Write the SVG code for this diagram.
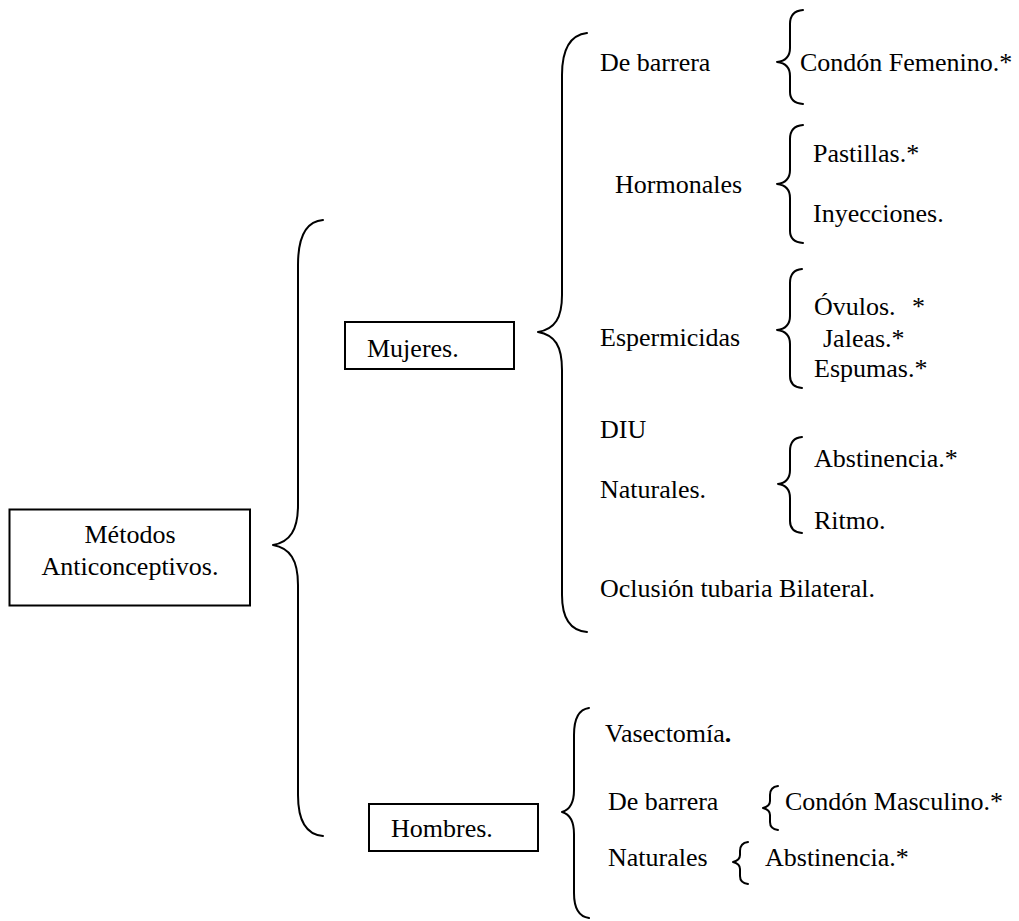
<svg xmlns="http://www.w3.org/2000/svg" width="1019" height="921" viewBox="0 0 1019 921">
<style>
  text { font-family: "Liberation Serif", "Times New Roman", serif; font-size: 26px; fill: #000; }
  .box { fill: #fff; stroke: #000; stroke-width: 2; }
  .brace { fill: none; stroke: #000; stroke-width: 2; stroke-linejoin: round; stroke-linecap: round; }
  .mid { text-anchor: middle; }
</style>
<rect width="1019" height="921" fill="#fff"/>
<g id="connectors">
  <path class="brace" d="M323,220 Q298,222 298,265 L298,505 C298,530 290,542 273,545 C290,548 298,560 298,585 L298,795 Q298,834 323,836"/>
  <path class="brace" d="M587,33 Q562,36 562,75 L562,295 C562,318 555,329 538,332 C555,335 562,346 562,370 L562,595 Q562,630 587,632"/>
  <path class="brace" d="M803,10 Q790,11 790,24 L790,48 C790,56 786,61 777,62 C786,63 790,68 790,76 L790,92 Q790,103 803,104"/>
  <path class="brace" d="M803,125 Q790,126 790,139 L790,170 C790,178 786,183 777,184 C786,185 790,190 790,198 L790,231 Q790,242 803,243"/>
  <path class="brace" d="M802,269 Q790,270 790,283 L790,316 C790,324 786,329 777,330 C786,331 790,336 790,344 L790,376 Q790,387 802,388"/>
  <path class="brace" d="M802,437 Q790,438 790,451 L790,470 C790,478 786,483 778,484 C786,485 790,490 790,498 L790,521 Q790,532 802,533"/>
  <path class="brace" d="M589,708 Q574,710 574,735 L574,790 C574,804 569,810 562,812 C569,814 574,820 574,834 L574,893 Q574,916 589,918"/>
  <path class="brace" d="M778,786 Q770,787 770,795 L770,801 C770,805 767,807 763,808 C767,809 770,811 770,815 L770,822 Q770,829 778,830"/>
  <path class="brace" d="M748,842 Q740,843 740,851 L740,855 C740,859 737,861 733,862 C737,863 740,865 740,869 L740,876 Q740,883 748,884"/>
</g>
<g id="metodos">
  <rect class="box" x="9.5" y="509.5" width="240.5" height="96"/>
  <text class="mid" x="130" y="543">Métodos</text>
  <text class="mid" x="130" y="575">Anticonceptivos.</text>
</g>
<g id="mujeres">
  <rect class="box" x="345" y="322" width="169" height="47"/>
  <text x="367" y="357">Mujeres.</text>
</g>
<g id="hombres">
  <rect class="box" x="369" y="804" width="169" height="47"/>
  <text x="391" y="837">Hombres.</text>
</g>
<g id="m-barrera"><text x="600" y="71">De barrera</text></g>
<g id="m-condon"><text x="800" y="71">Condón Femenino.*</text></g>
<g id="m-hormonales"><text x="615" y="193">Hormonales</text></g>
<g id="m-pastillas"><text x="813" y="162">Pastillas.*</text></g>
<g id="m-inyecciones"><text x="813" y="222">Inyecciones.</text></g>
<g id="m-espermicidas"><text x="600" y="346">Espermicidas</text></g>
<g id="m-ovulos"><text x="814" y="315">Óvulos.<tspan x="912">*</tspan></text></g>
<g id="m-jaleas"><text x="823" y="347">Jaleas.*</text></g>
<g id="m-espumas"><text x="814" y="377">Espumas.*</text></g>
<g id="m-diu"><text x="600" y="438">DIU</text></g>
<g id="m-naturales"><text x="600" y="498">Naturales.</text></g>
<g id="m-abstinencia"><text x="814" y="467">Abstinencia.*</text></g>
<g id="m-ritmo"><text x="814" y="529">Ritmo.</text></g>
<g id="m-oclusion"><text x="600" y="597">Oclusión tubaria Bilateral.</text></g>
<g id="h-vasectomia"><text x="605" y="742">Vasectomía<tspan font-weight="bold">.</tspan></text></g>
<g id="h-barrera"><text x="608" y="810">De barrera</text></g>
<g id="h-condon"><text x="785" y="810">Condón Masculino.*</text></g>
<g id="h-naturales"><text x="608" y="866">Naturales</text></g>
<g id="h-abstinencia"><text x="765" y="866">Abstinencia.*</text></g>
</svg>
